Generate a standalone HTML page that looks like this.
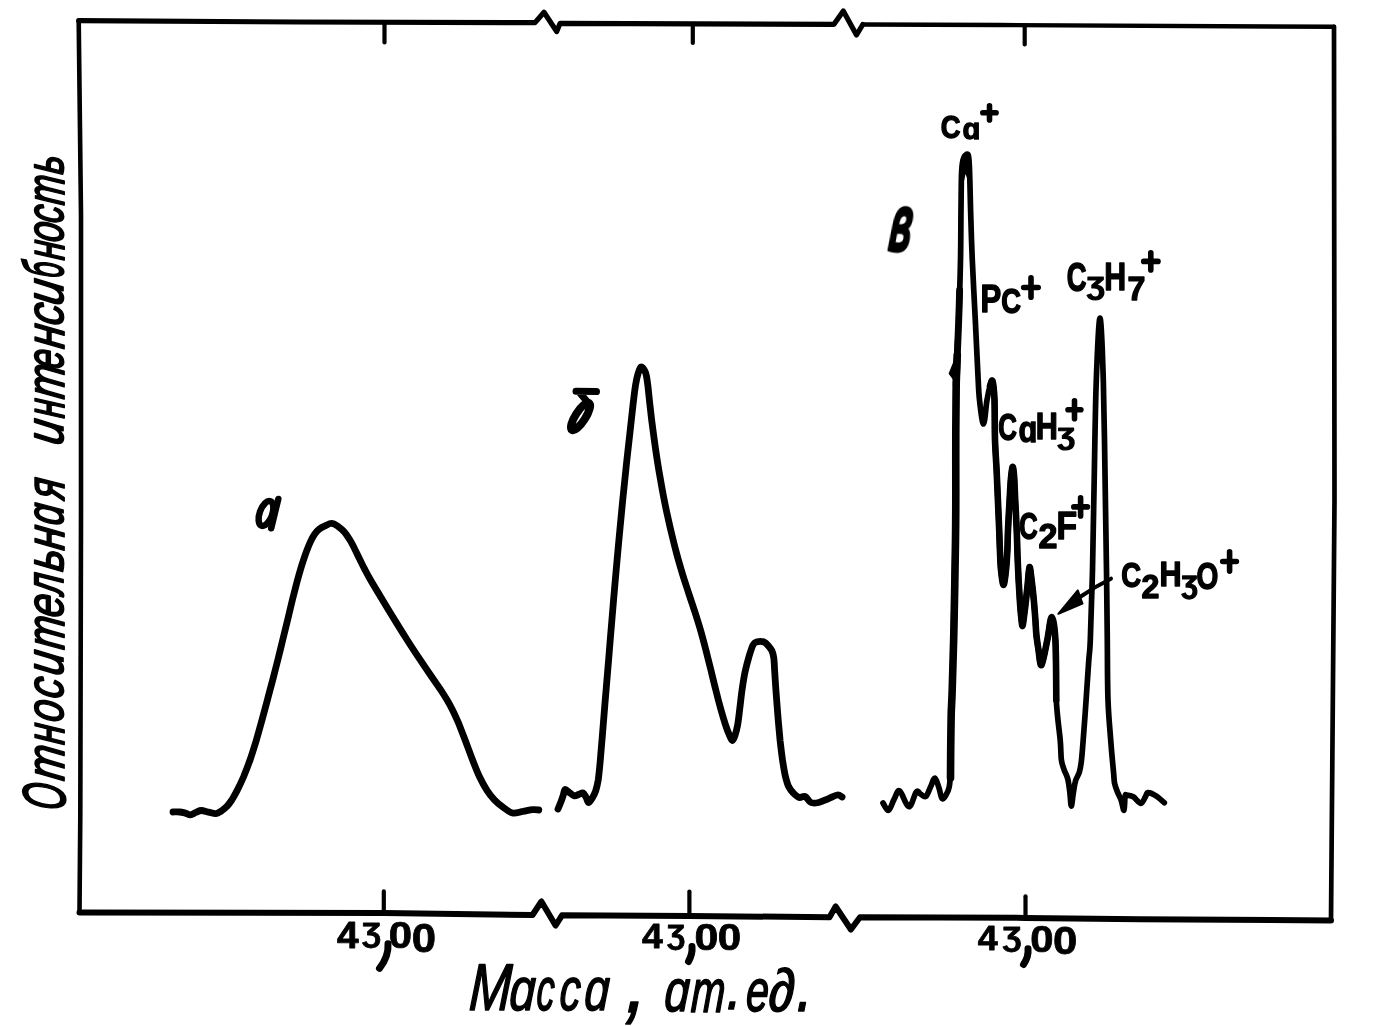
<!DOCTYPE html>
<html><head><meta charset="utf-8"><style>
html,body{margin:0;padding:0;background:#fff;overflow:hidden;width:1376px;height:1026px;}
svg{display:block;}
.lb{font-family:"Liberation Sans",sans-serif;font-weight:bold;fill:#000;}
.it{font-family:"Liberation Sans",sans-serif;font-style:italic;fill:#000;}
</style></head><body>
<svg width="1376" height="1026" viewBox="0 0 1376 1026">
<rect width="1376" height="1026" fill="#fff"/>
<path d="M78.7,20.7 L300.0,22.0 L535.0,22.6 L544.0,12.2 L556.7,31.5 L560.0,23.4 L834.0,24.3 L843.3,11.0 L856.5,35.0 L862.8,24.5" fill="none" stroke="#000" stroke-width="5.2" stroke-linejoin="round" stroke-linecap="round" />
<path d="M862.8,24.5 L1000.0,25.0 L1334.0,26.8" fill="none" stroke="#000" stroke-width="4.4" stroke-linejoin="round" stroke-linecap="round" />
<path d="M1334.0,26.8 L1334.5,500.0 L1331.0,920.5" fill="none" stroke="#000" stroke-width="4.7" stroke-linejoin="round" stroke-linecap="round" />
<path d="M1331.0,920.5 L1140.0,919.2 L1025.5,917.9 L860.0,917.3 L850.9,929.5 L835.6,906.5 L829.5,917.2 L689.4,916.0 L562.0,915.3 L555.6,925.5 L541.4,901.5 L532.5,915.0 L384.0,913.0 L79.5,912.5" fill="none" stroke="#000" stroke-width="6.0" stroke-linejoin="round" stroke-linecap="round" />
<path d="M79.5,912.5 L80.3,815.0 L81.0,515.0 L81.0,215.0 L78.7,20.7" fill="none" stroke="#000" stroke-width="4.6" stroke-linejoin="round" stroke-linecap="round" />
<path d="M384.5,22.0 L384.5,42.5" fill="none" stroke="#000" stroke-width="4.2" stroke-linejoin="round" stroke-linecap="round" />
<path d="M692.8,24.3 L692.8,43.0" fill="none" stroke="#000" stroke-width="4.2" stroke-linejoin="round" stroke-linecap="round" />
<path d="M1024.7,25.5 L1024.7,44.5" fill="none" stroke="#000" stroke-width="4.2" stroke-linejoin="round" stroke-linecap="round" />
<path d="M383.8,913.0 L383.8,891.4" fill="none" stroke="#000" stroke-width="4.2" stroke-linejoin="round" stroke-linecap="round" />
<path d="M689.4,916.0 L689.4,891.5" fill="none" stroke="#000" stroke-width="4.2" stroke-linejoin="round" stroke-linecap="round" />
<path d="M1025.5,917.8 L1025.5,896.3" fill="none" stroke="#000" stroke-width="4.2" stroke-linejoin="round" stroke-linecap="round" />
<path d="M173.0,812.0 C174.1,812.0 177.4,811.8 179.5,812.0 C181.6,812.2 183.6,812.7 185.4,813.1 C187.2,813.6 188.6,814.9 190.4,814.8 C192.2,814.7 194.1,813.1 195.9,812.4 C197.8,811.7 199.2,810.5 201.3,810.5 C203.4,810.5 206.2,811.6 208.6,812.1 C211.0,812.6 213.8,813.8 215.9,813.6 C218.0,813.4 219.6,812.1 221.4,811.0 C223.2,809.8 225.0,808.5 226.7,806.6 C228.4,804.8 230.0,802.7 231.8,800.0 C233.5,797.3 235.2,794.3 237.2,790.4 C239.1,786.6 241.3,782.1 243.5,777.0 C245.6,771.8 248.0,765.7 250.2,759.5 C252.3,753.4 254.4,746.6 256.4,740.0 C258.3,733.4 260.1,726.7 262.0,720.0 C263.8,713.3 265.6,706.7 267.4,700.0 C269.1,693.3 270.9,686.7 272.7,680.0 C274.4,673.3 276.1,666.7 277.8,660.0 C279.5,653.3 281.1,646.7 282.7,640.0 C284.4,633.3 286.0,626.6 287.6,620.0 C289.2,613.4 290.8,606.7 292.3,600.3 C293.9,594.0 295.5,587.7 297.0,581.9 C298.6,576.1 300.2,570.6 301.7,565.6 C303.2,560.7 304.8,556.1 306.2,552.1 C307.7,548.1 309.1,544.6 310.5,541.6 C311.9,538.6 313.1,536.3 314.6,534.2 C316.1,532.1 317.5,530.6 319.2,529.2 C320.9,527.8 322.9,526.8 325.0,525.9 C327.1,524.9 329.6,523.3 331.8,523.4 C334.0,523.5 336.0,525.0 338.1,526.4 C340.2,527.9 342.4,529.7 344.4,532.0 C346.4,534.3 348.3,537.3 350.1,540.3 C352.0,543.3 353.6,546.7 355.2,550.0 C356.9,553.3 358.4,556.7 360.1,560.0 C361.7,563.3 363.3,566.7 365.1,570.0 C366.8,573.3 368.6,576.6 370.6,580.0 C372.6,583.4 374.5,586.7 376.9,590.6 C379.3,594.6 381.8,598.8 384.8,603.8 C387.8,608.8 391.3,614.6 395.1,620.6 C398.8,626.7 403.1,633.5 407.2,640.0 C411.3,646.5 415.8,653.3 419.9,659.4 C423.9,665.4 427.9,671.3 431.3,676.2 C434.7,681.2 437.6,685.4 440.2,689.2 C442.8,693.1 444.7,696.1 446.8,699.5 C448.8,702.9 450.5,705.9 452.5,709.9 C454.5,713.8 456.4,718.1 458.6,723.2 C460.7,728.4 463.0,734.5 465.3,740.5 C467.6,746.5 470.0,753.5 472.4,759.5 C474.7,765.5 477.1,771.7 479.5,776.8 C481.9,781.8 484.3,786.2 486.8,790.1 C489.2,793.9 491.7,797.0 494.4,799.8 C497.1,802.7 500.0,805.0 503.1,807.2 C506.1,809.4 509.2,812.3 512.5,813.0 C515.8,813.7 519.6,811.9 523.0,811.4 C526.4,810.8 530.1,809.8 532.7,809.6 C535.3,809.4 537.8,809.9 538.8,810.0" fill="none" stroke="#000" stroke-width="6.8" stroke-linejoin="round" stroke-linecap="round" />
<path d="M558.0,809.0 C558.5,807.8 560.1,804.1 560.9,801.9 C561.8,799.6 562.5,797.4 563.2,795.3 C563.9,793.2 564.0,789.9 565.1,789.5 C566.2,789.1 568.1,791.8 569.7,792.8 C571.2,793.9 572.9,795.5 574.4,795.8 C575.9,796.1 577.4,794.8 578.9,794.4 C580.3,793.9 581.9,792.4 583.1,792.9 C584.3,793.4 585.2,795.8 586.1,797.4 C587.0,799.0 587.5,802.4 588.5,802.5 C589.5,802.6 591.1,799.8 592.3,797.9 C593.5,795.9 594.7,793.8 595.7,790.8 C596.6,787.9 597.4,784.8 598.2,780.1 C598.9,775.3 599.4,770.0 600.1,762.5 C600.8,755.1 601.5,745.7 602.4,735.1 C603.2,724.6 604.2,711.9 605.3,699.4 C606.3,686.9 607.5,673.2 608.6,660.0 C609.7,646.8 610.7,633.3 611.9,620.0 C613.0,606.7 614.1,593.3 615.3,580.0 C616.4,566.7 617.7,553.3 618.9,540.0 C620.2,526.7 621.4,513.2 622.7,500.3 C624.0,487.4 625.4,474.3 626.6,462.5 C627.9,450.7 629.2,439.3 630.3,429.4 C631.4,419.5 632.3,410.6 633.2,403.2 C634.1,395.8 634.8,389.7 635.6,384.8 C636.4,379.8 637.2,376.5 638.1,373.6 C639.0,370.6 640.0,367.6 641.0,367.0 C642.0,366.4 643.2,368.2 644.1,369.7 C645.0,371.1 645.8,372.9 646.4,375.7 C647.0,378.5 647.4,382.2 648.0,386.6 C648.5,391.0 649.0,396.4 649.6,402.0 C650.2,407.6 651.0,414.0 651.7,420.3 C652.5,426.6 653.4,433.4 654.3,440.0 C655.2,446.6 656.2,453.4 657.2,460.0 C658.2,466.6 659.3,473.3 660.5,479.7 C661.6,486.1 662.7,492.3 663.9,498.4 C665.1,504.6 666.3,510.4 667.7,516.6 C669.0,522.7 670.4,528.9 672.0,535.3 C673.5,541.7 675.2,548.4 677.0,555.0 C678.8,561.6 680.8,568.3 682.7,574.8 C684.7,581.3 686.9,587.7 688.9,593.9 C691.0,600.2 693.1,606.2 695.0,612.3 C697.0,618.5 698.9,624.5 700.7,630.8 C702.5,637.1 704.2,643.6 705.9,650.1 C707.6,656.7 709.2,663.4 710.9,670.0 C712.5,676.6 714.1,683.5 715.8,690.0 C717.4,696.5 719.2,703.4 720.8,709.2 C722.4,715.0 724.1,720.6 725.5,724.9 C726.9,729.2 728.1,732.3 729.3,734.9 C730.4,737.5 731.3,740.4 732.3,740.5 C733.3,740.6 734.3,737.7 735.1,735.2 C736.0,732.6 736.8,729.5 737.6,725.2 C738.4,720.8 739.0,715.1 739.7,709.2 C740.5,703.4 741.1,696.5 742.0,690.3 C742.9,684.1 743.9,677.7 745.0,672.2 C746.2,666.7 747.5,661.7 748.8,657.2 C750.2,652.7 751.7,647.5 753.0,645.0 C754.3,642.5 754.7,642.5 756.5,642.0 C758.3,641.5 762.0,641.3 764.0,642.0 C766.0,642.7 767.2,644.5 768.5,646.0 C769.8,647.5 771.1,649.0 772.0,651.0 C772.9,653.0 773.3,654.3 773.8,658.0 C774.3,661.7 774.4,667.7 774.8,673.0 C775.1,678.3 775.5,684.2 775.9,689.9 C776.3,695.5 776.8,701.3 777.2,706.9 C777.6,712.4 778.0,717.5 778.5,723.1 C779.0,728.8 779.5,734.6 780.1,740.6 C780.8,746.7 781.6,753.5 782.4,759.3 C783.3,765.1 784.2,771.0 785.2,775.6 C786.3,780.1 787.3,783.7 788.6,786.6 C790.0,789.5 791.5,791.2 793.3,793.0 C795.0,794.8 797.2,796.9 799.2,797.5 C801.2,798.1 803.0,795.7 805.0,796.5 C807.0,797.3 808.6,801.5 810.9,802.5 C813.2,803.5 815.8,803.1 818.7,802.5 C821.6,801.9 825.0,800.1 828.1,798.8 C831.2,797.6 835.0,795.3 837.3,795.0 C839.6,794.7 841.3,796.7 842.1,797.0" fill="none" stroke="#000" stroke-width="6.8" stroke-linejoin="round" stroke-linecap="round" />
<path d="M883.0,803.0 C883.9,804.2 886.6,811.0 888.5,810.4 C890.4,809.8 892.2,802.5 894.1,799.3 C896.0,796.0 897.1,789.7 899.6,790.9 C902.1,792.1 906.1,806.5 908.9,806.7 C911.7,806.9 914.4,794.0 916.3,791.9 C918.2,789.8 918.9,793.2 920.5,794.0 C922.1,794.8 924.1,797.7 925.8,796.5 C927.5,795.3 929.0,790.1 930.5,787.0 C932.0,783.9 933.6,777.8 935.0,778.0 C936.4,778.2 937.8,784.6 939.0,788.0 C940.2,791.4 940.8,797.3 942.0,798.5 C943.2,799.7 944.8,796.9 946.0,795.0 C947.2,793.1 948.5,790.8 949.2,787.0 C950.0,783.2 950.2,778.2 950.5,772.0 C950.8,765.8 950.6,759.7 950.7,750.0 C950.8,740.3 950.9,726.2 951.2,714.0 C951.5,701.8 952.0,689.3 952.4,677.0 C952.8,664.7 952.7,671.2 953.3,640.0 C953.9,608.8 955.4,525.0 955.8,490.0 C956.2,455.0 955.8,449.2 955.8,430.0 C955.8,410.8 955.5,393.3 956.0,375.0 C956.5,356.7 958.0,339.2 958.7,320.0 C959.5,300.8 960.1,278.3 960.5,260.0 C960.9,241.7 960.8,224.2 961.0,210.0 C961.2,195.8 961.2,183.3 961.5,175.0 C961.8,166.7 962.2,163.3 963.0,160.0 C963.8,156.7 965.0,155.0 966.0,155.0 C967.0,155.0 968.2,150.8 969.0,160.0 C969.8,169.2 970.1,193.3 970.6,210.0 C971.1,226.7 971.5,241.7 972.3,260.0 C973.1,278.3 974.4,301.7 975.3,320.0 C976.2,338.3 977.0,356.7 977.7,370.0 C978.4,383.3 978.5,391.0 979.5,400.0 C980.5,409.0 982.2,424.0 983.5,424.0 C984.8,424.0 985.9,406.3 987.0,400.0 C988.1,393.7 989.1,389.2 990.0,386.0 C990.9,382.8 991.8,378.7 992.5,381.0 C993.2,383.3 994.1,390.2 994.5,400.0 C994.9,409.8 994.6,428.3 995.0,440.0 C995.4,451.7 996.1,460.0 996.6,470.0 C997.1,480.0 997.5,490.0 997.9,500.0 C998.3,510.0 998.9,521.7 999.2,530.0 C999.5,538.3 999.6,543.3 999.9,550.0 C1000.2,556.7 1000.4,564.2 1001.0,570.0 C1001.6,575.8 1002.7,585.0 1003.5,585.0 C1004.3,585.0 1005.4,575.8 1006.0,570.0 C1006.6,564.2 1007.1,556.7 1007.4,550.0 C1007.7,543.3 1007.6,538.3 1008.0,530.0 C1008.4,521.7 1009.1,508.3 1009.6,500.0 C1010.1,491.7 1010.3,485.5 1010.8,480.0 C1011.3,474.5 1012.0,467.8 1012.5,467.0 C1013.0,466.2 1013.5,469.5 1014.0,475.0 C1014.5,480.5 1014.8,490.8 1015.2,500.0 C1015.7,509.2 1016.3,520.8 1016.7,530.0 C1017.1,539.2 1017.2,546.7 1017.5,555.0 C1017.8,563.3 1018.2,572.5 1018.6,580.0 C1019.0,587.5 1019.4,594.2 1019.8,600.0 C1020.2,605.8 1020.5,610.7 1021.0,615.0 C1021.5,619.3 1022.0,626.2 1022.5,626.0 C1023.0,625.8 1023.7,618.3 1024.3,614.0 C1024.9,609.7 1025.5,604.8 1026.0,600.0 C1026.5,595.2 1027.0,590.5 1027.6,585.0 C1028.2,579.5 1028.8,567.8 1029.5,567.0 C1030.2,566.2 1030.9,574.5 1031.6,580.0 C1032.3,585.5 1033.2,593.3 1033.8,600.0 C1034.4,606.7 1035.0,614.2 1035.4,620.0 C1035.8,625.8 1035.9,630.0 1036.4,635.0 C1036.9,640.0 1037.7,645.0 1038.5,650.0 C1039.3,655.0 1040.0,666.7 1041.5,665.0 C1043.0,663.3 1045.6,648.0 1047.3,640.0 C1049.0,632.0 1050.3,617.0 1051.7,617.0 C1053.1,617.0 1054.6,626.2 1055.4,640.0 C1056.2,653.8 1055.5,683.3 1056.3,700.0 C1057.1,716.7 1059.3,730.0 1060.2,740.0 C1061.1,750.0 1060.7,755.0 1061.4,760.0 C1062.1,765.0 1063.1,766.8 1064.2,770.0 C1065.3,773.2 1066.9,775.3 1067.8,779.0 C1068.7,782.7 1069.2,787.5 1069.8,792.0 C1070.4,796.5 1070.7,805.8 1071.3,806.0 C1071.9,806.2 1072.6,797.2 1073.3,793.0 C1074.0,788.8 1074.5,784.5 1075.5,781.0 C1076.5,777.5 1078.4,775.5 1079.4,772.0 C1080.4,768.5 1080.9,765.3 1081.5,760.0 C1082.1,754.7 1082.4,750.0 1083.2,740.0 C1084.0,730.0 1085.2,713.3 1086.1,700.0 C1087.0,686.7 1088.1,670.0 1088.8,660.0 C1089.5,650.0 1089.7,655.0 1090.3,640.0 C1090.9,625.0 1091.8,596.7 1092.5,570.0 C1093.2,543.3 1093.6,511.7 1094.2,480.0 C1094.8,448.3 1095.3,407.0 1096.3,380.0 C1097.3,353.0 1098.8,318.0 1100.0,318.0 C1101.2,318.0 1102.5,353.0 1103.3,380.0 C1104.1,407.0 1104.6,448.3 1105.1,480.0 C1105.6,511.7 1106.1,543.3 1106.5,570.0 C1106.9,596.7 1107.0,618.3 1107.3,640.0 C1107.5,661.7 1107.4,683.3 1108.0,700.0 C1108.6,716.7 1109.8,728.0 1110.7,740.0 C1111.6,752.0 1112.8,764.5 1113.5,771.7 C1114.2,778.9 1113.9,780.0 1114.6,783.4 C1115.3,786.8 1116.4,789.5 1117.5,792.2 C1118.6,794.9 1119.9,796.8 1121.0,799.8 C1122.1,802.8 1123.3,810.9 1124.0,810.3 C1124.7,809.7 1124.6,798.8 1125.1,796.3 C1125.6,793.8 1125.5,795.0 1126.9,795.1 C1128.3,795.2 1131.0,795.4 1133.3,796.8 C1135.6,798.2 1138.9,803.4 1140.9,803.3 C1143.0,803.2 1144.4,798.1 1145.6,796.3 C1146.8,794.5 1146.3,792.8 1148.0,792.7 C1149.7,792.6 1152.9,794.0 1155.6,795.7 C1158.3,797.4 1162.8,801.5 1164.3,802.7" fill="none" stroke="#000" stroke-width="5.7" stroke-linejoin="round" stroke-linecap="round" />
<path d="M990.0,386.0 C990.4,385.2 991.8,378.7 992.5,381.0 C993.2,383.3 994.1,390.2 994.5,400.0 C994.9,409.8 994.6,428.3 995.0,440.0 C995.4,451.7 996.1,460.0 996.6,470.0 C997.1,480.0 997.5,490.0 997.9,500.0 C998.3,510.0 998.9,521.7 999.2,530.0 C999.5,538.3 999.6,543.3 999.9,550.0 C1000.2,556.7 1000.4,564.2 1001.0,570.0 C1001.6,575.8 1002.7,585.0 1003.5,585.0 C1004.3,585.0 1005.4,575.8 1006.0,570.0 C1006.6,564.2 1007.1,556.7 1007.4,550.0 C1007.7,543.3 1007.6,538.3 1008.0,530.0 C1008.4,521.7 1009.1,508.3 1009.6,500.0 C1010.1,491.7 1010.3,485.5 1010.8,480.0 C1011.3,474.5 1012.0,467.8 1012.5,467.0 C1013.0,466.2 1013.5,469.5 1014.0,475.0 C1014.5,480.5 1014.8,490.8 1015.2,500.0 C1015.7,509.2 1016.3,520.8 1016.7,530.0 C1017.1,539.2 1017.2,546.7 1017.5,555.0 C1017.8,563.3 1018.2,572.5 1018.6,580.0 C1019.0,587.5 1019.4,594.2 1019.8,600.0 C1020.2,605.8 1020.5,610.7 1021.0,615.0 C1021.5,619.3 1022.0,626.2 1022.5,626.0 C1023.0,625.8 1023.7,618.3 1024.3,614.0 C1024.9,609.7 1025.5,604.8 1026.0,600.0 C1026.5,595.2 1027.0,590.5 1027.6,585.0 C1028.2,579.5 1028.8,567.8 1029.5,567.0 C1030.2,566.2 1030.9,574.5 1031.6,580.0 C1032.3,585.5 1033.2,593.3 1033.8,600.0 C1034.4,606.7 1035.0,614.2 1035.4,620.0 C1035.8,625.8 1035.9,630.0 1036.4,635.0 C1036.9,640.0 1037.7,645.0 1038.5,650.0 C1039.3,655.0 1040.0,666.7 1041.5,665.0 C1043.0,663.3 1045.6,648.0 1047.3,640.0 C1049.0,632.0 1050.3,617.0 1051.7,617.0 C1053.1,617.0 1054.6,626.2 1055.4,640.0 C1056.2,653.8 1056.2,690.0 1056.3,700.0" fill="none" stroke="#000" stroke-width="6.6" stroke-linejoin="round" stroke-linecap="round" />
<path d="M950.5,778.0 C950.5,773.3 950.6,760.7 950.7,750.0 C950.8,739.3 951.0,724.0 951.2,714.0 C951.5,704.0 951.7,705.7 952.2,690.0 C952.7,674.3 953.6,645.0 954.1,620.0 C954.6,595.0 955.2,561.7 955.5,540.0 C955.8,518.3 955.8,508.3 955.8,490.0 C955.8,471.7 955.7,447.5 955.8,430.0 C955.9,412.5 956.0,397.5 956.2,385.0 C956.5,372.5 957.1,360.0 957.3,355.0" fill="none" stroke="#000" stroke-width="7.6" stroke-linejoin="round" stroke-linecap="round" />
<path d="M956.2,385.0 C956.4,379.2 957.1,360.8 957.5,350.0 C957.9,339.2 958.4,330.0 958.7,320.0 C959.1,310.0 959.5,295.0 959.6,290.0" fill="none" stroke="#000" stroke-width="6.9" stroke-linejoin="round" stroke-linecap="round" />
<path d="M960.8,182 C960.8,166 962,151.5 966,151.5 C970,151.5 971,166 971.6,184 L968.5,182 L965.5,174 L963.8,182 Z" fill="#000"/>
<path d="M956.5,356 L949.4,373.5 L953.5,379 Z" fill="#000" stroke="#000" stroke-width="1.5" stroke-linejoin="round"/>
<path d="M1111,578.7 C1100,584 1090,590 1080,597" fill="none" stroke="#000" stroke-width="4" stroke-linejoin="round" stroke-linecap="round" />
<path d="M1058.3,613.8 L1077.8,590.4 L1080.2,597.4 L1082.5,603.7 Z" fill="#000" stroke="#000" stroke-width="2" stroke-linejoin="round"/>
<g fill="#000" font-family="'Liberation Sans', sans-serif" style="font-kerning:none" opacity="0.999">
<text transform="matrix(0.3883,0.0000,0.0000,0.3605,337.0122,948.2000)" font-size="100" font-weight="bold" font-style="normal" stroke="#000" stroke-width="2.137" stroke-linejoin="round" >4</text>
<text transform="matrix(0.3126,0.0000,0.0000,0.2845,362.0031,942.1716)" font-size="100" font-weight="bold" font-style="normal" stroke="#000" stroke-width="2.680" stroke-linejoin="round" >Ʒ</text>
<text transform="matrix(0.4184,0.0000,0.0000,0.3616,388.7451,947.8469)" font-size="100" font-weight="bold" font-style="normal" stroke="#000" stroke-width="2.051" stroke-linejoin="round" >0</text>
<text transform="matrix(0.4374,0.0000,0.0000,0.4068,411.7702,951.8028)" font-size="100" font-weight="bold" font-style="normal" stroke="#000" stroke-width="1.895" stroke-linejoin="round" >0</text>
<text transform="matrix(0.3734,0.0000,0.0000,0.3430,642.0348,948.2000)" font-size="100" font-weight="bold" font-style="normal" stroke="#000" stroke-width="2.233" stroke-linejoin="round" >4</text>
<text transform="matrix(0.2984,0.0000,0.0000,0.2756,667.0212,943.5600)" font-size="100" font-weight="bold" font-style="normal" stroke="#000" stroke-width="2.787" stroke-linejoin="round" >Ʒ</text>
<text transform="matrix(0.4289,0.0000,0.0000,0.3616,694.5035,949.8469)" font-size="100" font-weight="bold" font-style="normal" stroke="#000" stroke-width="2.024" stroke-linejoin="round" >0</text>
<text transform="matrix(0.4205,0.0000,0.0000,0.3616,717.6368,949.8469)" font-size="100" font-weight="bold" font-style="normal" stroke="#000" stroke-width="2.046" stroke-linejoin="round" >0</text>
<text transform="matrix(0.3584,0.0000,0.0000,0.3488,977.8574,950.4000)" font-size="100" font-weight="bold" font-style="normal" stroke="#000" stroke-width="2.262" stroke-linejoin="round" >4</text>
<text transform="matrix(0.3126,0.0000,0.0000,0.2800,1002.4031,945.6658)" font-size="100" font-weight="bold" font-style="normal" stroke="#000" stroke-width="2.700" stroke-linejoin="round" >Ʒ</text>
<text transform="matrix(0.4184,0.0000,0.0000,0.3672,1030.3451,952.0414)" font-size="100" font-weight="bold" font-style="normal" stroke="#000" stroke-width="2.037" stroke-linejoin="round" >0</text>
<text transform="matrix(0.4374,0.0000,0.0000,0.3955,1052.9702,954.0138)" font-size="100" font-weight="bold" font-style="normal" stroke="#000" stroke-width="1.921" stroke-linejoin="round" >0</text>
<path d="M388,943.7 C388.5,951 386,960 379.5,968.3" fill="none" stroke="#000" stroke-width="7" stroke-linecap="round"/>
<path d="M692,946.5 C692.5,952 691,957 688.5,961.5" fill="none" stroke="#000" stroke-width="7" stroke-linecap="round"/>
<path d="M1028,948.7 C1028.5,954 1027,959.5 1023.5,964.5" fill="none" stroke="#000" stroke-width="7" stroke-linecap="round"/>
<text transform="matrix(0.2738,0.0000,0.0000,0.3150,940.8271,137.7424)" font-size="100" font-weight="bold" font-style="normal" stroke="#000" stroke-width="4.416" stroke-linejoin="round" >C</text>
<text transform="matrix(0.2917,0.0000,0.0000,0.2939,962.5535,138.8630)" font-size="100" font-weight="bold" font-style="normal" stroke="#000" stroke-width="4.440" stroke-linejoin="round" >ɑ</text>
<text transform="matrix(0.3110,0.0000,0.0000,0.3823,980.5696,312.3500)" font-size="100" font-weight="bold" font-style="normal" stroke="#000" stroke-width="3.750" stroke-linejoin="round" >P</text>
<text transform="matrix(0.2738,0.0000,0.0000,0.3588,1001.2271,312.5997)" font-size="100" font-weight="bold" font-style="normal" stroke="#000" stroke-width="4.110" stroke-linejoin="round" >C</text>
<text transform="matrix(0.2585,0.0000,0.0000,0.3616,998.2898,439.8969)" font-size="100" font-weight="bold" font-style="normal" stroke="#000" stroke-width="4.193" stroke-linejoin="round" >C</text>
<text transform="matrix(0.3076,0.0000,0.0000,0.3742,1018.3884,441.6846)" font-size="100" font-weight="bold" font-style="normal" stroke="#000" stroke-width="3.814" stroke-linejoin="round" >ɑ</text>
<text transform="matrix(0.3062,0.0000,0.0000,0.3663,1035.8018,439.1500)" font-size="100" font-weight="bold" font-style="normal" stroke="#000" stroke-width="3.866" stroke-linejoin="round" >H</text>
<text transform="matrix(0.2878,0.0000,0.0000,0.2356,1057.4847,445.0577)" font-size="100" font-weight="bold" font-style="normal" stroke="#000" stroke-width="4.968" stroke-linejoin="round" >Ʒ</text>
<text transform="matrix(0.2554,0.0000,0.0000,0.3672,1019.2024,539.4914)" font-size="100" font-weight="bold" font-style="normal" stroke="#000" stroke-width="4.176" stroke-linejoin="round" >C</text>
<text transform="matrix(0.3406,0.0000,0.0000,0.3437,1038.4691,548.0500)" font-size="100" font-weight="bold" font-style="normal" stroke="#000" stroke-width="3.799" stroke-linejoin="round" >2</text>
<text transform="matrix(0.3371,0.0000,0.0000,0.3924,1056.4952,538.8500)" font-size="100" font-weight="bold" font-style="normal" stroke="#000" stroke-width="3.564" stroke-linejoin="round" >F</text>
<text transform="matrix(0.2738,0.0000,0.0000,0.4054,1066.7271,291.3541)" font-size="100" font-weight="bold" font-style="normal" stroke="#000" stroke-width="3.828" stroke-linejoin="round" >C</text>
<text transform="matrix(0.2966,0.0000,0.0000,0.2656,1086.6734,295.3219)" font-size="100" font-weight="bold" font-style="normal" stroke="#000" stroke-width="4.625" stroke-linejoin="round" >Ʒ</text>
<text transform="matrix(0.3028,0.0000,0.0000,0.3823,1104.2246,290.1500)" font-size="100" font-weight="bold" font-style="normal" stroke="#000" stroke-width="3.795" stroke-linejoin="round" >H</text>
<text transform="matrix(0.3218,0.0000,0.0000,0.3299,1127.5673,300.1500)" font-size="100" font-weight="bold" font-style="normal" stroke="#000" stroke-width="3.989" stroke-linejoin="round" >7</text>
<text transform="matrix(0.2753,0.0000,0.0000,0.3545,1121.2208,586.6038)" font-size="100" font-weight="bold" font-style="normal" stroke="#000" stroke-width="4.128" stroke-linejoin="round" >C</text>
<text transform="matrix(0.3219,0.0000,0.0000,0.3308,1141.5339,598.1500)" font-size="100" font-weight="bold" font-style="normal" stroke="#000" stroke-width="3.983" stroke-linejoin="round" >2</text>
<text transform="matrix(0.3062,0.0000,0.0000,0.3503,1159.5018,585.9500)" font-size="100" font-weight="bold" font-style="normal" stroke="#000" stroke-width="3.961" stroke-linejoin="round" >H</text>
<text transform="matrix(0.2664,0.0000,0.0000,0.2511,1181.5118,593.9280)" font-size="100" font-weight="bold" font-style="normal" stroke="#000" stroke-width="5.023" stroke-linejoin="round" >Ʒ</text>
<text transform="matrix(0.2806,0.0000,0.0000,0.3701,1196.4989,588.6886)" font-size="100" font-weight="bold" font-style="normal" stroke="#000" stroke-width="3.996" stroke-linejoin="round" >O</text>
<path d="M982.8,112.8 H996.1 M989.5,105.7 V119.9" stroke="#000" stroke-width="5.6" stroke-linecap="round" fill="none"/>
<path d="M1023.7,287.5 H1038.2 M1031.0,277.8 V297.2" stroke="#000" stroke-width="5.6" stroke-linecap="round" fill="none"/>
<path d="M1068.0,409.8 H1080.9 M1074.5,400.8 V418.8" stroke="#000" stroke-width="5.6" stroke-linecap="round" fill="none"/>
<path d="M1073.8,506.9 H1087.4 M1080.6,497.9 V515.9" stroke="#000" stroke-width="5.6" stroke-linecap="round" fill="none"/>
<path d="M1143.7,261.4 H1158.0 M1150.8,252.8 V269.9" stroke="#000" stroke-width="5.6" stroke-linecap="round" fill="none"/>
<path d="M1222.7,561.5 H1236.4 M1229.6,551.8 V571.1" stroke="#000" stroke-width="5.6" stroke-linecap="round" fill="none"/>
<ellipse cx="266" cy="513.5" rx="13" ry="6.3" transform="rotate(-70 266 513.5)" fill="none" stroke="#000" stroke-width="6.5"/>
<path d="M278.3,499 L271.2,528.3" fill="none" stroke="#000" stroke-width="6.5" stroke-linecap="round"/>
<ellipse cx="580.5" cy="416.5" rx="16" ry="5" transform="rotate(-57.5 580.5 416.5)" fill="none" stroke="#000" stroke-width="8"/>
<path d="M576,391.2 L596.5,391.6 M579,392 L587.5,402" fill="none" stroke="#000" stroke-width="7" stroke-linecap="round"/>
<text transform="matrix(0.3702,0.0000,-0.0923,0.8085,887.3004,251.0104)" font-size="100" font-weight="bold" font-style="italic" stroke="#000" stroke-width="3.733" stroke-linejoin="round" >в</text>
<text transform="matrix(0.5057,0.0000,-0.0354,0.6628,468.5445,1010.1000)" font-size="100" font-weight="normal" font-style="italic" stroke="#000" stroke-width="2.396" stroke-linejoin="round" >M</text>
<text transform="matrix(0.4637,0.0000,-0.0324,0.5969,508.6432,1009.6880)" font-size="100" font-weight="normal" font-style="italic" stroke="#000" stroke-width="2.640" stroke-linejoin="round" >ɑ</text>
<text transform="matrix(0.3573,0.0000,-0.0250,0.5969,536.0795,1009.7171)" font-size="100" font-weight="normal" font-style="italic" stroke="#000" stroke-width="2.934" stroke-linejoin="round" >c</text>
<text transform="matrix(0.4190,0.0000,-0.0293,0.5969,559.0998,1009.7171)" font-size="100" font-weight="normal" font-style="italic" stroke="#000" stroke-width="2.756" stroke-linejoin="round" >c</text>
<text transform="matrix(0.4469,0.0000,-0.0313,0.5969,583.7176,1009.6880)" font-size="100" font-weight="normal" font-style="italic" stroke="#000" stroke-width="2.683" stroke-linejoin="round" >ɑ</text>
<text transform="matrix(0.7751,0.0000,-0.0542,0.9325,624.9930,1012.2711)" font-size="100" font-weight="normal" font-style="italic" stroke="#000" stroke-width="1.640" stroke-linejoin="round" >,</text>
<text transform="matrix(0.4506,0.0000,-0.0315,0.5896,663.7011,1011.1955)" font-size="100" font-weight="normal" font-style="italic" stroke="#000" stroke-width="2.692" stroke-linejoin="round" >ɑ</text>
<text transform="matrix(0.4083,0.0000,-0.0285,0.6008,690.6222,1011.8000)" font-size="100" font-weight="normal" font-style="italic" stroke="#000" stroke-width="2.775" stroke-linejoin="round" >m</text>
<text transform="matrix(0.5255,0.0000,-0.0367,0.6640,726.4472,1008.8000)" font-size="100" font-weight="normal" font-style="italic" stroke="#000" stroke-width="2.354" stroke-linejoin="round" >.</text>
<text transform="matrix(0.4063,0.0000,-0.0284,0.5896,745.6031,1011.2242)" font-size="100" font-weight="normal" font-style="italic" stroke="#000" stroke-width="2.812" stroke-linejoin="round" >e</text>
<text transform="matrix(0.5254,0.0000,-0.0367,0.6005,767.6693,1011.0083)" font-size="100" font-weight="normal" font-style="italic" stroke="#000" stroke-width="2.487" stroke-linejoin="round" >∂</text>
<text transform="matrix(0.5740,0.0000,-0.0401,0.7855,796.2577,1010.8000)" font-size="100" font-weight="normal" font-style="italic" stroke="#000" stroke-width="2.059" stroke-linejoin="round" >.</text>
<text transform="matrix(0.0000,-0.3387,0.6031,0.0597,64.7110,811.1835)" font-size="100" font-weight="normal" font-style="italic" stroke="#000" stroke-width="3.398" stroke-linejoin="round" >O</text>
<text transform="matrix(0.0000,-0.4136,0.5357,0.0729,63.9000,781.3866)" font-size="100" font-weight="normal" font-style="italic" stroke="#000" stroke-width="3.371" stroke-linejoin="round" >m</text>
<text transform="matrix(0.0000,-0.3606,0.5451,0.0636,63.9000,745.2987)" font-size="100" font-weight="normal" font-style="italic" stroke="#000" stroke-width="3.533" stroke-linejoin="round" >н</text>
<text transform="matrix(0.0000,-0.3893,0.5262,0.0686,63.3862,723.1891)" font-size="100" font-weight="normal" font-style="italic" stroke="#000" stroke-width="3.496" stroke-linejoin="round" >o</text>
<text transform="matrix(0.0000,-0.4115,0.5257,0.0726,63.3866,699.7409)" font-size="100" font-weight="normal" font-style="italic" stroke="#000" stroke-width="3.415" stroke-linejoin="round" >c</text>
<text transform="matrix(0.0000,-0.4297,0.5357,0.0758,63.4030,676.8402)" font-size="100" font-weight="normal" font-style="italic" stroke="#000" stroke-width="3.315" stroke-linejoin="round" >u</text>
<text transform="matrix(0.0000,-0.3899,0.5357,0.0688,63.9000,650.3473)" font-size="100" font-weight="normal" font-style="italic" stroke="#000" stroke-width="3.457" stroke-linejoin="round" >m</text>
<text transform="matrix(0.0000,-0.4112,0.5257,0.0725,63.3866,618.8192)" font-size="100" font-weight="normal" font-style="italic" stroke="#000" stroke-width="3.416" stroke-linejoin="round" >e</text>
<text transform="matrix(0.0000,-0.3637,0.5352,0.0641,63.3773,595.4534)" font-size="100" font-weight="normal" font-style="italic" stroke="#000" stroke-width="3.560" stroke-linejoin="round" >л</text>
<text transform="matrix(0.0000,-0.4161,0.5352,0.0734,63.3773,572.5472)" font-size="100" font-weight="normal" font-style="italic" stroke="#000" stroke-width="3.364" stroke-linejoin="round" >ь</text>
<text transform="matrix(0.0000,-0.4182,0.5451,0.0737,63.9000,550.8943)" font-size="100" font-weight="normal" font-style="italic" stroke="#000" stroke-width="3.322" stroke-linejoin="round" >н</text>
<text transform="matrix(0.0000,-0.3694,0.5257,0.0651,63.3610,526.3507)" font-size="100" font-weight="normal" font-style="italic" stroke="#000" stroke-width="3.575" stroke-linejoin="round" >ɑ</text>
<text transform="matrix(0.0000,-0.3773,0.5451,0.0665,63.9000,500.3156)" font-size="100" font-weight="normal" font-style="italic" stroke="#000" stroke-width="3.469" stroke-linejoin="round" >я</text>
<text transform="matrix(0.0000,-0.4403,0.5357,0.0776,63.4030,446.2052)" font-size="100" font-weight="normal" font-style="italic" stroke="#000" stroke-width="3.279" stroke-linejoin="round" >u</text>
<text transform="matrix(0.0000,-0.3277,0.5451,0.0578,63.9000,418.7440)" font-size="100" font-weight="normal" font-style="italic" stroke="#000" stroke-width="3.666" stroke-linejoin="round" >н</text>
<text transform="matrix(0.0000,-0.4018,0.5357,0.0708,63.9000,399.8670)" font-size="100" font-weight="normal" font-style="italic" stroke="#000" stroke-width="3.413" stroke-linejoin="round" >m</text>
<text transform="matrix(0.0000,-0.3439,0.5257,0.0606,63.3866,369.8908)" font-size="100" font-weight="normal" font-style="italic" stroke="#000" stroke-width="3.680" stroke-linejoin="round" >e</text>
<text transform="matrix(0.0000,-0.4182,0.5451,0.0737,63.9000,349.3943)" font-size="100" font-weight="normal" font-style="italic" stroke="#000" stroke-width="3.322" stroke-linejoin="round" >н</text>
<text transform="matrix(0.0000,-0.4316,0.5257,0.0761,63.3866,326.8654)" font-size="100" font-weight="normal" font-style="italic" stroke="#000" stroke-width="3.343" stroke-linejoin="round" >c</text>
<text transform="matrix(0.0000,-0.4473,0.5357,0.0789,63.4030,306.4484)" font-size="100" font-weight="normal" font-style="italic" stroke="#000" stroke-width="3.255" stroke-linejoin="round" >u</text>
<text transform="matrix(0.0000,-0.2754,0.5652,0.0486,63.3481,278.8570)" font-size="100" font-weight="normal" font-style="italic" stroke="#000" stroke-width="3.807" stroke-linejoin="round" >б</text>
<text transform="matrix(0.0000,-0.3359,0.5451,0.0592,63.9000,260.7577)" font-size="100" font-weight="normal" font-style="italic" stroke="#000" stroke-width="3.632" stroke-linejoin="round" >н</text>
<text transform="matrix(0.0000,-0.3569,0.5262,0.0629,63.3862,243.2817)" font-size="100" font-weight="normal" font-style="italic" stroke="#000" stroke-width="3.624" stroke-linejoin="round" >o</text>
<text transform="matrix(0.0000,-0.3510,0.5257,0.0619,63.3866,224.3672)" font-size="100" font-weight="normal" font-style="italic" stroke="#000" stroke-width="3.650" stroke-linejoin="round" >c</text>
<text transform="matrix(0.0000,-0.3484,0.5357,0.0614,63.9000,205.7784)" font-size="100" font-weight="normal" font-style="italic" stroke="#000" stroke-width="3.619" stroke-linejoin="round" >m</text>
<text transform="matrix(0.0000,-0.3512,0.5352,0.0619,63.3773,174.9152)" font-size="100" font-weight="normal" font-style="italic" stroke="#000" stroke-width="3.610" stroke-linejoin="round" >ь</text>
</g>
</svg>
</body></html>
